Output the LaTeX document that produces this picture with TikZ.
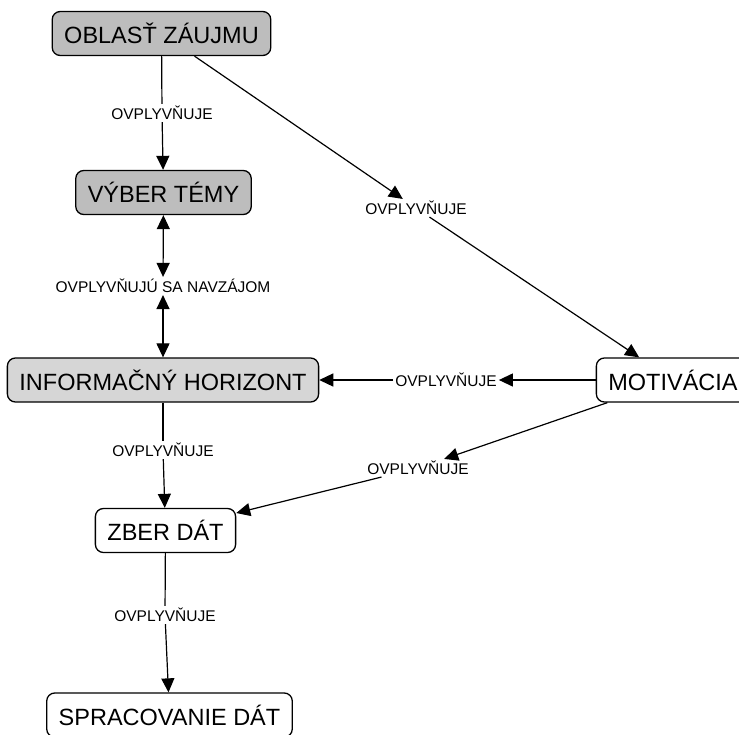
\documentclass[tikz,border=0pt]{standalone}
\usepackage{fontspec}
\setmainfont{Liberation Sans}
\usetikzlibrary{arrows.meta}
\definecolor{conceptdark}{gray}{0.74}
\definecolor{conceptlight}{gray}{0.84}

\begin{document}
\begin{tikzpicture}[x=1pt, y=-1pt,
  concept/.style={draw, line width=1.3pt, rounded corners=8pt, minimum height=44pt,
    inner xsep=12pt, fill=white, font=\fontsize{23.5}{26}\selectfont},
  phrase/.style={inner sep=2pt, font=\fontsize{15.5}{18}\selectfont},
  link/.style={line width=1.2pt},
  linkto/.style={line width=1.2pt, -{Triangle[length=14pt,width=13pt]}},
  linkboth/.style={line width=1.2pt, {Triangle[length=14pt,width=13pt]}-{Triangle[length=14pt,width=13pt]}}]
  \useasboundingbox (0,0) rectangle (739,734);

  % concepts
  \node[concept, fill=conceptdark]  (oblast) at (161.5,33.5) {OBLASŤ ZÁUJMU};
  \node[concept, fill=conceptdark]  (vyber)  at (163.5,192.5) {VÝBER TÉMY};
  \node[concept, fill=conceptlight] (info)   at (163,380) {INFORMAČNÝ HORIZONT};
  \node[concept]                    (motiv)  at (673,380) {MOTIVÁCIA};
  \node[concept]                    (zber)   at (165.5,530.5) {ZBER DÁT};
  \node[concept]                    (sprac)  at (169.5,715) {SPRACOVANIE DÁT};

  % linking phrases
  \node[phrase] (p1) at (162,113) {OVPLYVŇUJE};
  \node[phrase] (p2) at (416,208) {OVPLYVŇUJE};
  \node[phrase] (p3) at (163,286) {OVPLYVŇUJÚ SA NAVZÁJOM};
  \node[phrase] (p4) at (446,380) {OVPLYVŇUJE};
  \node[phrase] (p5) at (163,450) {OVPLYVŇUJE};
  \node[phrase] (p6) at (418,468) {OVPLYVŇUJE};
  \node[phrase] (p7) at (165,615) {OVPLYVŇUJE};

  % connectors
  \draw[link]     (oblast) -- (p1);
  \draw[linkto]   (p1) -- (vyber);
  \draw[linkto]   (oblast) -- (p2);
  \draw[linkto]   (p2) -- (motiv);
  \draw[linkboth] (vyber) -- (p3);
  \draw[linkboth] (p3) -- (info);
  \draw[linkto]   (motiv) -- (p4);
  \draw[linkto]   (p4) -- (info);
  \draw[link]     (info) -- (p5);
  \draw[linkto]   (p5) -- (zber);
  \draw[linkto]   (motiv) -- (p6);
  \draw[linkto]   (p6) -- (zber);
  \draw[link]     (zber) -- (p7);
  \draw[linkto]   (p7) -- (sprac);
\end{tikzpicture}
\end{document}
